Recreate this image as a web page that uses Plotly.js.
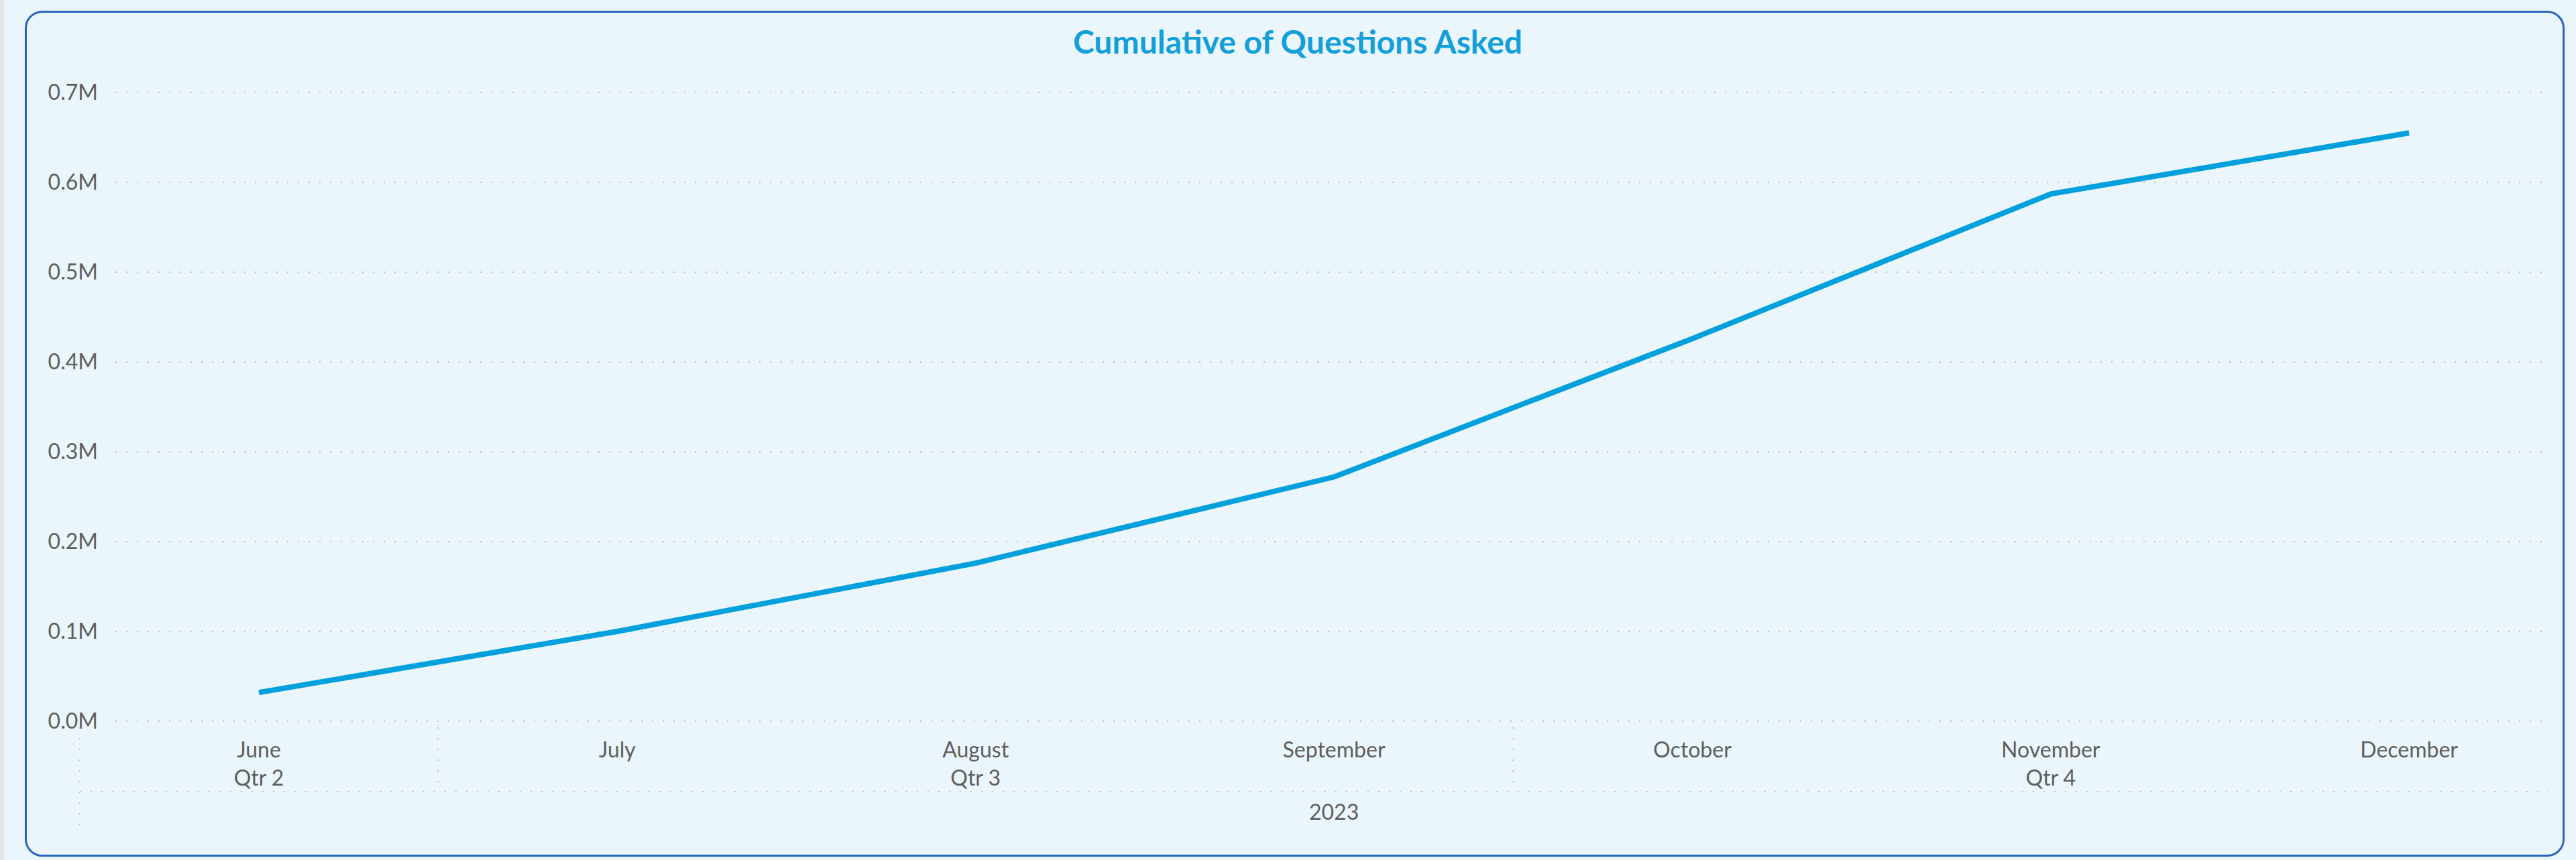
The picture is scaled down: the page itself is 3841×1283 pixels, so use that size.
<!DOCTYPE html>
<html>
<head>
<meta charset="utf-8">
<script src="https://cdn.plot.ly/plotly-3.0.1.min.js"></script>
<style>
  html, body { margin:0; padding:0; width:3841px; height:1283px; background:#EAF5FC; overflow:hidden; }
  #strip { position:absolute; left:0; top:0; width:6px; height:1283px; background:#E4E6E8; }
  #panel { position:absolute; left:37px; top:16px; width:3787px; height:1262px; box-sizing:border-box;
           border:3px solid #2A66BE; border-radius:26px; background:#EAF5FC; }
  #chart { position:absolute; left:0; top:0; width:3841px; height:1283px; }
</style>
</head>
<body>
<div id="strip"></div>
<div id="panel"></div>
<div id="chart"></div>
<script>
// ---- data ----
var months   = ["June", "July", "August", "September", "October", "November", "December"];
var quarters = ["Qtr 2", "", "Qtr 3", "", "", "Qtr 4", ""];
var year     = "2023";
var cumulativeQuestions = [32000, 100000, 176000, 272000, 426000, 587000, 655000];
var yTickVals  = [0, 100000, 200000, 300000, 400000, 500000, 600000, 700000];
var yTickText  = ["0.0M", "0.1M", "0.2M", "0.3M", "0.4M", "0.5M", "0.6M", "0.7M"];

// ---- layout helpers ----
var W = 3841, H = 1283;
var xRange = [-0.4005, 6.389];
var yRange = [-4000, 704000];
var tickText = months.map(function(m, i){ return quarters[i] ? m + "<br>" + quarters[i] : m; });
var labelFont = {family: "Segoe UI, Lato, 'Open Sans', sans-serif", size: 32, color: "#605E5C"};
var sepColor = "#BDBDBD";
var sepDash = "2px,14px";
var leftDom = (-0.5 - xRange[0]) / (xRange[1] - xRange[0]);
function py(px){ return (H - px) / H; }
var y0px = 1076, y7px = 138, perUnit = (y0px - y7px) / 700000;
var yDomBottom = py(y0px + (0 - yRange[0]) * perUnit);
var yDomTop = py(y7px - (yRange[1] - 700000) * perUnit);

var shapes = [
  {type:"line", xref:"x domain", yref:"paper", x0:leftDom, x1:1, y0:py(1181), y1:py(1181),
   line:{color:sepColor, width:2, dash:sepDash}},
  {type:"line", xref:"x domain", yref:"paper", x0:leftDom, x1:leftDom, y0:py(1085), y1:py(1240),
   line:{color:sepColor, width:2, dash:sepDash}},
  {type:"line", xref:"x", yref:"paper", x0:0.5, x1:0.5, y0:py(1085), y1:py(1181),
   line:{color:sepColor, width:2, dash:sepDash}},
  {type:"line", xref:"x", yref:"paper", x0:3.5, x1:3.5, y0:py(1085), y1:py(1181),
   line:{color:sepColor, width:2, dash:sepDash}}
];

var trace = {
  type: "scatter", mode: "lines",
  x: months, y: cumulativeQuestions,
  line: {color: "#00A0DC", width: 8},
  hoverinfo: "x+y"
};

var layout = {
  width: W, height: H,
  margin: {l:0, r:0, t:0, b:0, pad:0},
  paper_bgcolor: "rgba(0,0,0,0)",
  plot_bgcolor: "rgba(0,0,0,0)",
  showlegend: false,
  title: {
    text: "<b>Cumulative of Questions Asked</b>",
    xref: "container", yref: "container",
    x: 1935 / W, xanchor: "center",
    y: 1 - 63 / H, yanchor: "middle",
    font: {family: "Segoe UI, Lato, 'Open Sans', sans-serif", size: 48, color: "#129FDA"}
  },
  xaxis: {
    type: "category",
    domain: [172 / W, 3800 / W],
    range: xRange,
    tickvals: months, ticktext: tickText,
    tickfont: labelFont,
    showgrid: false, zeroline: false, showline: false, ticks: "",
    ticklabelstandoff: 16,
    fixedrange: true
  },
  yaxis: {
    domain: [yDomBottom, yDomTop],
    range: yRange,
    tickvals: yTickVals, ticktext: yTickText,
    tickfont: labelFont,
    showgrid: true, gridcolor: sepColor, gridwidth: 2, griddash: sepDash,
    zeroline: false, showline: false, ticks: "",
    ticklabelstandoff: 25,
    fixedrange: true
  },
  shapes: shapes,
  annotations: [
    {text: year, xref: "x", yref: "paper", x: months[3], y: py(1210),
     xanchor: "center", yanchor: "middle", showarrow: false, font: labelFont}
  ]
};

Plotly.newPlot("chart", [trace], layout, {displayModeBar: false, staticPlot: true});
</script>
</body>
</html>
